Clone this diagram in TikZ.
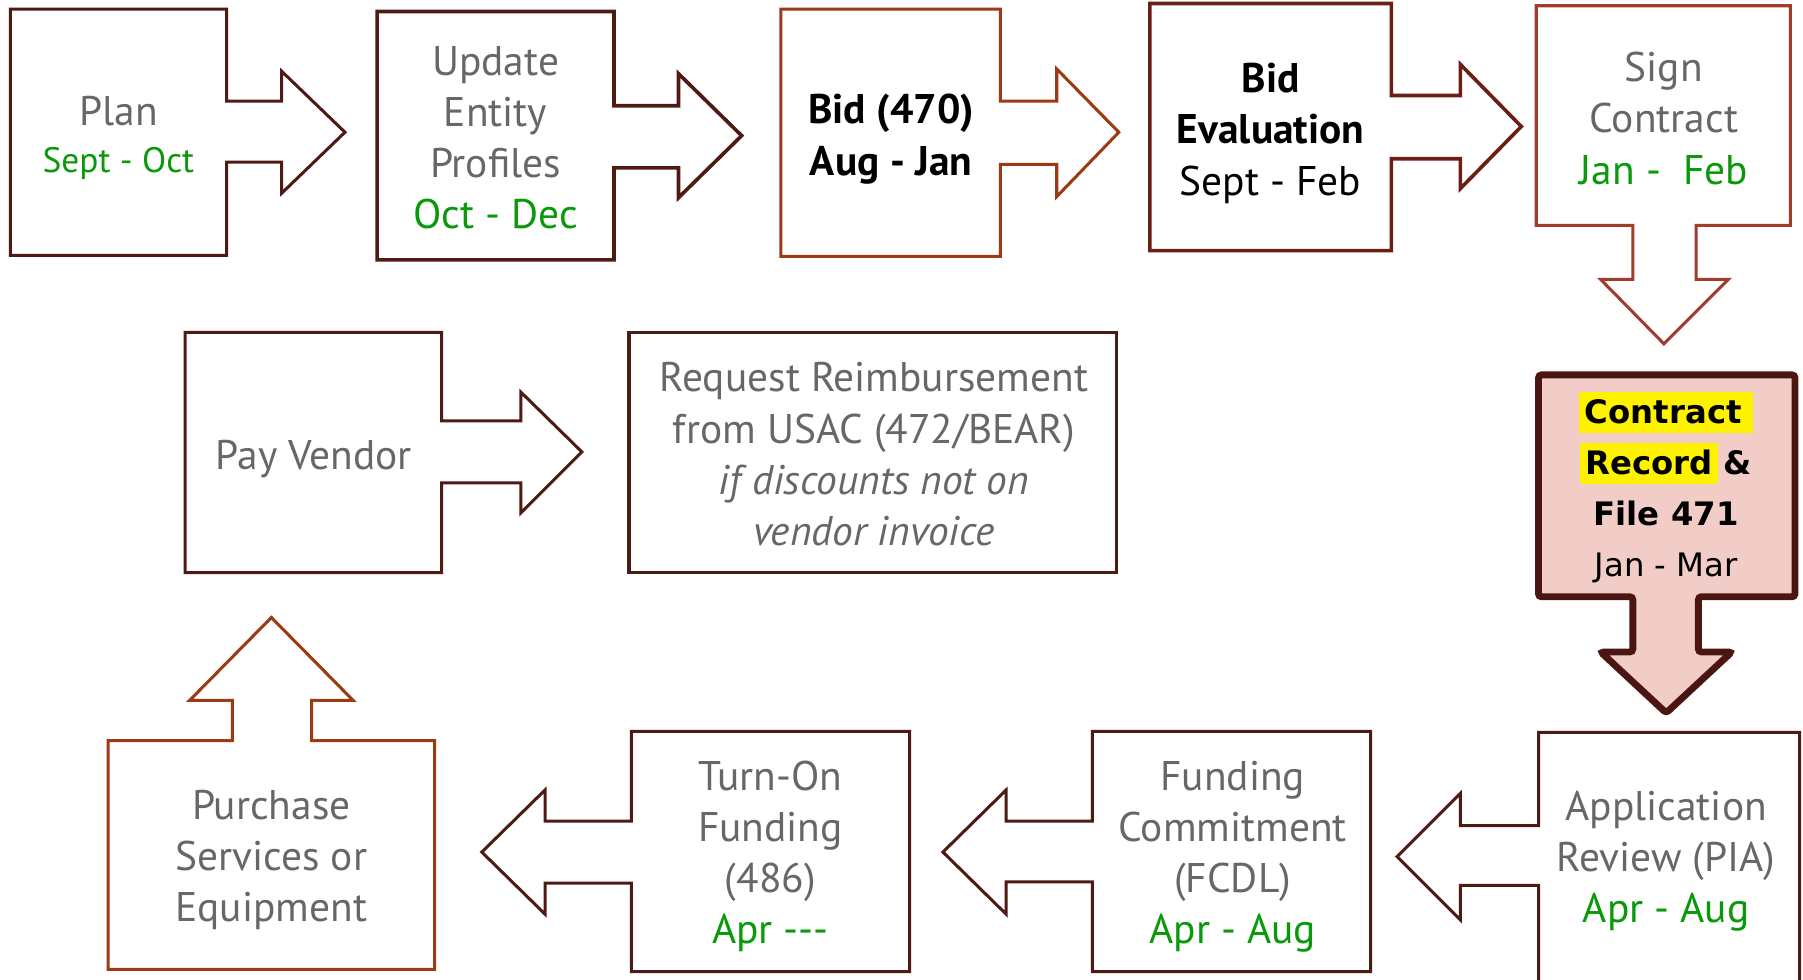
\documentclass[tikz,border=0pt]{standalone}
\usepackage{fontspec}
\setmainfont{PT Sans}
\newfontfamily\recfont{DejaVu Sans}
\usetikzlibrary{positioning}
\definecolor{darkbrown}{HTML}{4E1A14}
\definecolor{rust}{HTML}{9C3A16}
\definecolor{maroon}{HTML}{6A1E16}
\definecolor{brick}{HTML}{A23B2C}
\definecolor{stepgray}{HTML}{676767}
\definecolor{dategreen}{HTML}{0A990A}
\definecolor{recfill}{HTML}{F2CCC6}
\definecolor{recdraw}{HTML}{4B1611}
\tikzset{
    flow/.style={x=0.02cm, y=-0.02cm, line join=miter},
    stage/.style={draw=darkbrown, line width=1.5pt},
    steptext/.style={text=stepgray, align=center, inner sep=0pt,
        font=\fontsize{20.5}{25.3}\selectfont},
    % the highlighted step: pink fill, heavy outline
    keystage/.style={draw=recdraw, fill=recfill, line width=3.4pt, rounded corners=1.5pt},
}
\newcommand{\dates}[1]{\textcolor{dategreen}{#1}}
\newcommand{\hl}[1]{{\setlength{\fboxsep}{0pt}\colorbox{yellow}{\rule[-0.3em]{0pt}{1.25em}\,#1}}}

\begin{document}
\begin{tikzpicture}[flow]
    \useasboundingbox (0,0) rectangle (1568,852);

    % top row
    \draw[stage] (9,8) -- (197,8) -- (197,88) -- (245,88) -- (245,62) -- (300,115)
        -- (245,168) -- (245,141) -- (197,141) -- (197,222) -- (9,222) -- cycle;
    \draw[stage, line width=1.8pt] (328,10) -- (534,10) -- (534,92) -- (590,92) -- (590,64) -- (645,118)
        -- (590,172) -- (590,146) -- (534,146) -- (534,226) -- (328,226) -- cycle;
    \draw[stage, draw=rust] (679,8) -- (870,8) -- (870,88) -- (919,88) -- (919,60) -- (973,115)
        -- (919,171) -- (919,143) -- (870,143) -- (870,223) -- (679,223) -- cycle;
    \draw[stage, draw=maroon, line width=1.8pt] (1000,3) -- (1210,3) -- (1210,83) -- (1270,83) -- (1270,56) -- (1323,110)
        -- (1270,164) -- (1270,138) -- (1210,138) -- (1210,218) -- (1000,218) -- cycle;
    \draw[stage, draw=brick] (1336,5) -- (1557,5) -- (1557,196) -- (1475,196) -- (1475,243) -- (1503,243)
        -- (1447,299) -- (1392,243) -- (1420,243) -- (1420,196) -- (1336,196) -- cycle;

    \node[steptext] (plan) at (103,120) {Plan\\[-2pt]\fontsize{17.5}{20}\selectfont\dates{Sept - Oct}};
    \node[steptext] (update) at (431,120) {Update\\Entity\\Profiles\\\dates{Oct - Dec}};
    \node[steptext, text=black, font=\fontsize{20.5}{25.3}\selectfont\bfseries] (bid) at (775,121) {Bid (470)\\Aug - Jan};
    \node[steptext, text=black] (bideval) at (1105,116) {\textbf{Bid}\\\textbf{Evaluation}\\Sept - Feb};
    \node[steptext] (sign) at (1447,103) {Sign\\Contract\\\dates{Jan -\ \ Feb}};

    % right column
    \draw[keystage] (1338,326) -- (1561,326) -- (1561,519) -- (1477,519) -- (1477,567) -- (1506,567)
        -- (1449,620) -- (1392,567) -- (1420,567) -- (1420,519) -- (1338,519) -- cycle;
    \node[steptext, text=black, font=\recfont\fontsize{16}{25.3}\selectfont] (record) at (1449,424)
        {\textbf{\hl{Contract\ }}\\\textbf{\hl{Record\,}\,\&}\\\textbf{File 471}\\Jan - Mar};

    % bottom row
    \draw[stage] (1338,637) -- (1565,637) -- (1565,870) -- (1338,870) -- (1338,770) -- (1270,770)
        -- (1270,800) -- (1215,745) -- (1270,690) -- (1270,718) -- (1338,718) -- cycle;
    \draw[stage] (950,636) -- (1192,636) -- (1192,845) -- (950,845) -- (950,767) -- (875,767)
        -- (875,795) -- (820,741) -- (875,687) -- (875,714) -- (950,714) -- cycle;
    \draw[stage] (549,636) -- (791,636) -- (791,845) -- (549,845) -- (549,768) -- (474,768)
        -- (474,795) -- (419,741) -- (474,687) -- (474,714) -- (549,714) -- cycle;
    \draw[stage, draw=rust] (94,644) -- (202,644) -- (202,609) -- (165,609) -- (236,537) -- (307,609)
        -- (271,609) -- (271,644) -- (378,644) -- (378,843) -- (94,843) -- cycle;

    \node[steptext] (review) at (1449,749) {Application\\Review (PIA)\\\dates{Apr - Aug}};
    \node[steptext] (fcdl) at (1072,745) {Funding\\Commitment\\(FCDL)\\\dates{Apr - Aug}};
    \node[steptext] (turnon) at (670,745) {Turn-On\\Funding\\(486)\\\dates{Apr -{}-{}-}};
    \node[steptext] (purchase) at (236,748) {Purchase\\Services or\\Equipment};

    % middle row
    \draw[stage] (161,289) -- (384,289) -- (384,366) -- (453,366) -- (453,341) -- (506,393)
        -- (453,446) -- (453,420) -- (384,420) -- (384,498) -- (161,498) -- cycle;
    \draw[stage] (547,289) rectangle (971,498);

    \node[steptext] (payvendor) at (273,399) {Pay Vendor};
    \node[steptext] (reimb) at (760,395) {Request Reimbursement\\from USAC (472/BEAR)\\
        \textit{if discounts not on}\\\textit{vendor invoice}};
\end{tikzpicture}
\end{document}
